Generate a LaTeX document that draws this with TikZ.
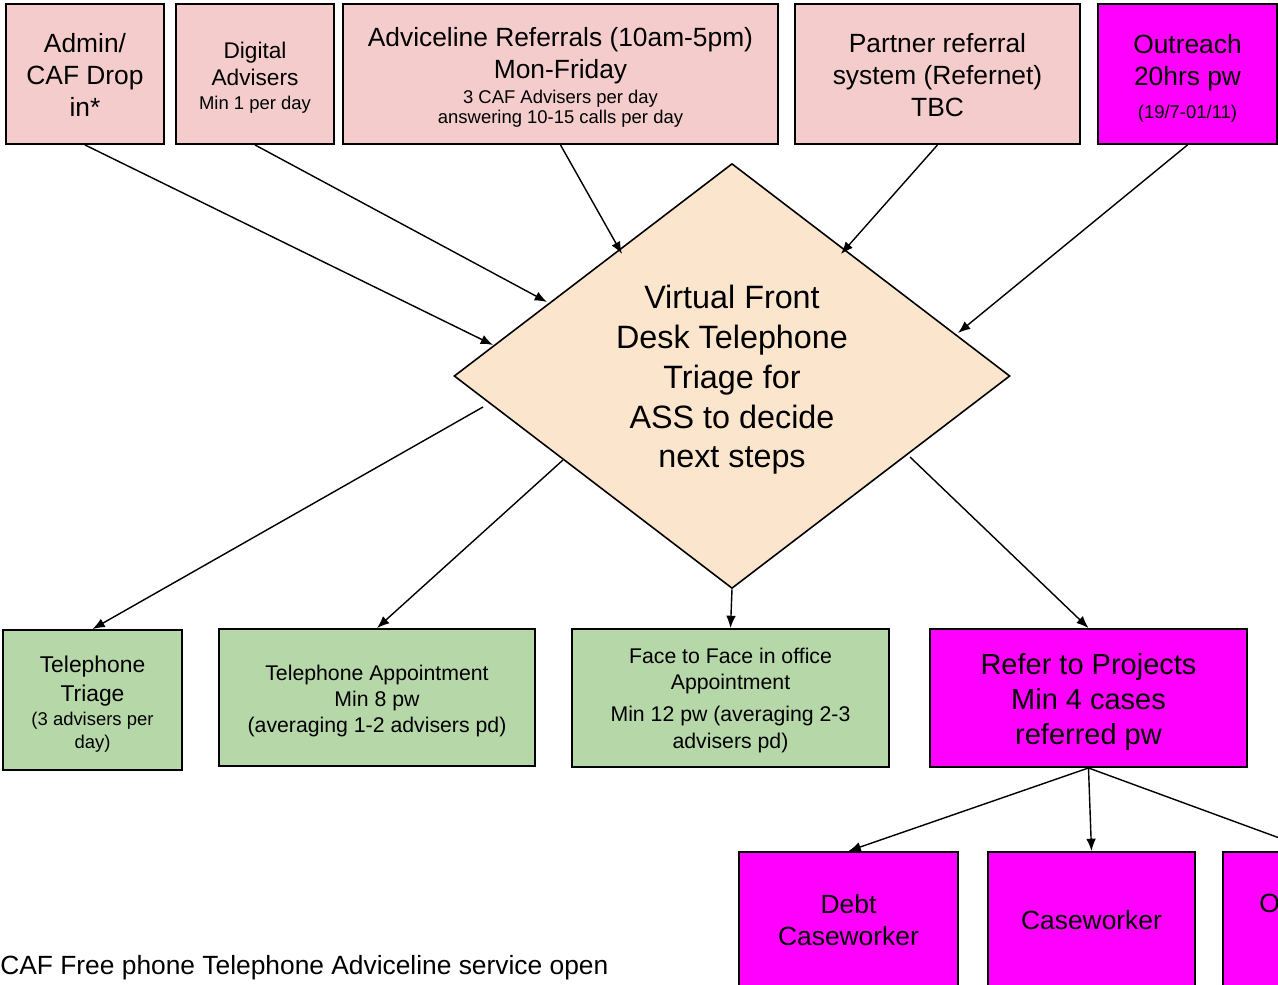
\documentclass[tikz,border=0pt]{standalone}
\usepackage{fontspec}
\setmainfont{Liberation Sans}
\usetikzlibrary{arrows.meta,calc,shapes.geometric}
\definecolor{pinkc}{HTML}{F4CCCC}
\definecolor{magc}{HTML}{FF00FF}
\definecolor{greenc}{HTML}{B6D7A8}
\definecolor{peachc}{HTML}{FCE5CD}
\newcommand{\fbig}{\fontsize{15}{18.2}\selectfont}
\newcommand{\fmid}{\fontsize{12.1}{14.8}\selectfont}
\newcommand{\fsmall}{\fontsize{10.5}{12}\selectfont}
\begin{document}
\begin{tikzpicture}[x=0.02cm,y=-0.02cm,
  box/.style={draw=black, line width=1.1pt, rectangle, inner sep=0pt},
  pinkbox/.style={box, fill=pinkc},
  magbox/.style={box, fill=magc},
  greenbox/.style={box, fill=greenc},
  txt/.style={align=center, inner sep=0pt, font=\fbig},
  arr/.style={-{Latex[length=7pt,width=5.5pt]}, line width=0.8pt}
]
\useasboundingbox (0,0) rectangle (1278,984);
\clip (0,0) rectangle (1278,984);

% top row
\node[pinkbox, minimum width=3.16cm, minimum height=2.8cm] (a) at (85,74) {};
\node[txt] (at) at ($(a.center)+(0,1)$) {Admin/\\CAF Drop\\in*};
\node[pinkbox, minimum width=3.16cm, minimum height=2.8cm] (b) at (255,74) {};
\node[txt, font=\fontsize{12.9}{15.4}\selectfont] (bt) at ($(b.center)+(0,3.5)$)
  {Digital\\Advisers\\[-1.7pt]{\fsmall Min 1 per day}};
\node[pinkbox, minimum width=8.7cm, minimum height=2.8cm] (c) at (560.5,74) {};
\node[txt] (ct) at ($(c.center)+(0,3)$)
  {Adviceline Referrals (10am-5pm)\\Mon-Friday\\[-3.8pt]{\fsmall 3 CAF Advisers per day}\\[-7pt]{\fsmall answering 10-15 calls per day}};
\node[pinkbox, minimum width=5.7cm, minimum height=2.8cm] (p) at (937.5,74) {};
\node[txt] (pt) at ($(p.center)+(0,1)$) {Partner referral\\system (Refernet)\\TBC};
\node[magbox, minimum width=3.58cm, minimum height=2.8cm] (o) at (1187.5,74) {};
\node[txt] (ot) at ($(o.center)+(0,4)$) {Outreach\\20hrs pw\\[0.5pt]{\fsmall (19/7-01/11)}};

% diamond
\node[diamond, draw=black, fill=peachc, line width=0.9pt, inner sep=0pt,
      minimum width=11.12cm, minimum height=8.5cm] (d) at (732,376) {};
\node[txt, font=\fontsize{18.4}{22.6}\selectfont] (dt) at ($(d.center)+(0,4)$)
  {Virtual Front\\Desk Telephone\\Triage for\\ASS to decide\\next steps};

\coordinate (in1) at ($(d.center)+(-239,-31)$);
\coordinate (in2) at ($(d.center)+(-185,-74)$);
\coordinate (in3) at ($(d.center)+(-110,-122)$);
\coordinate (in4) at ($(d.center)+(109,-122)$);
\coordinate (in5) at ($(d.center)+(226,-43)$);
\coordinate (out1) at ($(d.center)+(-249,31)$);
\coordinate (out2) at ($(d.center)+(-169,84)$);
\coordinate (out4) at ($(d.center)+(178,81)$);

\draw[arr] (a.south) -- (in1);
\draw[arr] (b.south) -- (in2);
\draw[arr] (c.south) -- (in3);
\draw[arr] (p.south) -- (in4);
\draw[arr] (o.south) -- (in5);

% middle row
\node[greenbox, minimum width=3.58cm, minimum height=2.8cm] (tt) at (92.5,700) {};
\node[txt, font=\fontsize{13}{16}\selectfont] (ttt) at ($(tt.center)+(0,4.5)$)
  {Telephone\\Triage\\[-2.1pt]{\fsmall (3 advisers per}\\[-2.7pt]{\fsmall day)}};
\node[greenbox, minimum width=6.32cm, minimum height=2.74cm] (ta) at (377,697.5) {};
\node[txt, font=\fmid] (tat) at ($(ta.center)+(0,3.5)$)
  {Telephone Appointment\\Min 8 pw\\(averaging 1-2 advisers pd)};
\node[greenbox, minimum width=6.34cm, minimum height=2.76cm] (ff) at (730.5,698) {};
\node[txt, font=\fmid] (fft) at ($(ff.center)+(0,2.5)$)
  {Face to Face in office\\Appointment\\[3.3pt]Min 12 pw (averaging 2-3\\[0.5pt]advisers pd)};
\node[magbox, minimum width=6.34cm, minimum height=2.76cm] (rp) at (1088.5,698) {};
\node[txt, font=\fontsize{16.5}{20}\selectfont] (rpt) at ($(rp.center)+(0,4)$)
  {Refer to Projects\\Min 4 cases\\referred pw};

\draw[arr] (out1) -- (tt.north);
\draw[arr] (out2) -- (ta.north);
\draw[arr] (d.south) -- (ff.north);
\draw[arr] (out4) -- (rp.north);

% bottom row
\node[magbox, minimum width=4.38cm, minimum height=2.72cm] (debt) at (848.5,920) {};
\node[txt] (debtt) at (debt.center) {Debt\\Caseworker};
\node[magbox, minimum width=4.14cm, minimum height=2.72cm] (cw) at (1091.5,920) {};
\node[txt] (cwt) at (cw.center) {Caseworker};
\node[magbox, minimum width=3.68cm, minimum height=2.72cm] (oth) at (1315,920) {};
\node[font=\fbig, anchor=base west, inner sep=0pt] (otht) at (1259,912) {O};

\draw[arr] (rp.south) -- (debt.north);
\draw[arr] (rp.south) -- (cw.north);
\draw[arr] (rp.south) -- (oth.north);

\node[font=\fbig, anchor=base west, inner sep=0pt] (note) at (0,974.5) {CAF Free phone Telephone Adviceline service open};
\end{tikzpicture}
\end{document}
